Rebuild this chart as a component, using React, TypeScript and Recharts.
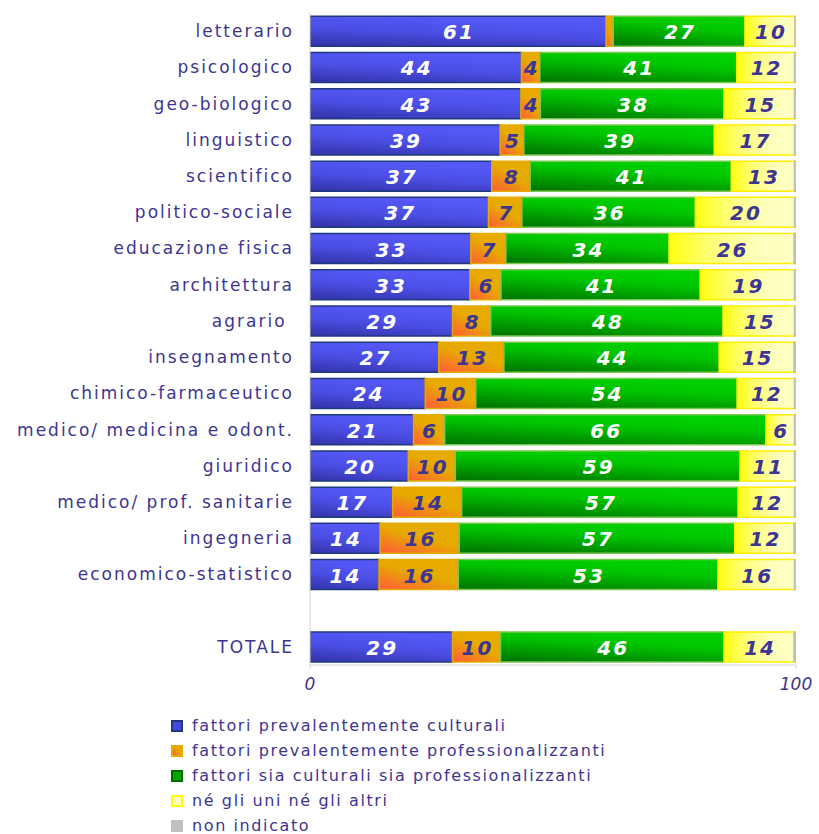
import React from "react";
import { BarChart, Bar, XAxis, YAxis, LabelList } from "recharts";

const categories = [
  "letterario",
  "psicologico",
  "geo-biologico",
  "linguistico",
  "scientifico",
  "politico-sociale",
  "educazione fisica",
  "architettura",
  "agrario\u00A0",
  "insegnamento",
  "chimico-farmaceutico",
  "medico/ medicina e odont.",
  "giuridico",
  "medico/ prof. sanitarie",
  "ingegneria",
  "economico-statistico",
  " ",
  "TOTALE",
];

// percentages (empty row = spacer before TOTALE)
const culturali = [60.9, 43.5, 43.4, 39.1, 37.4, 36.7, 33.1, 32.9, 29.3, 26.5, 23.7, 21.3, 20.2, 17.0, 14.4, 14.2, null, 29.3];
const professionalizzanti = [1.5, 3.8, 4.0, 4.9, 7.9, 6.9, 7.2, 6.4, 7.9, 13.4, 10.4, 6.4, 9.7, 14.2, 16.3, 16.3, null, 9.9];
const entrambi = [27.1, 40.5, 37.8, 39.2, 41.4, 35.7, 33.6, 41.0, 47.8, 44.3, 53.8, 66.1, 58.6, 56.9, 56.7, 53.4, null, 46.0];
const nessuno = [10.3, 11.9, 14.5, 16.5, 13.0, 20.4, 25.7, 19.4, 14.7, 15.4, 11.8, 5.9, 11.2, 11.6, 12.2, 15.8, null, 14.4];
const nonIndicato = [0.2, 0.3, 0.3, 0.3, 0.3, 0.3, 0.4, 0.3, 0.3, 0.4, 0.3, 0.3, 0.3, 0.3, 0.4, 0.3, null, 0.4];

const xTicks = [0, 100];

const TEXT = "#3d3592";
const FONT = "'DejaVu Sans', Verdana, sans-serif";

const series = [
  { key: "culturali", name: "fattori prevalentemente culturali", fill: "url(#gBlue)", stroke: "#1f3a7c", label: "#ffffff", swatch: "#4848e0", swatchBorder: "#1f3a7c" },
  { key: "professionalizzanti", name: "fattori prevalentemente professionalizzanti", fill: "url(#gOrange)", stroke: "#e6aa00", label: TEXT, swatch: "linear-gradient(45deg, #ff5a3a, #e6aa00 60%)", swatchBorder: "#e6aa00" },
  { key: "entrambi", name: "fattori sia culturali sia professionalizzanti", fill: "url(#gGreen)", stroke: "#7ac850", label: "#ffffff", swatch: "#00a800", swatchBorder: "#006a00" },
  { key: "nessuno", name: "né gli uni né gli altri", fill: "url(#gYellow)", stroke: "#ffee00", label: TEXT, swatch: "#ffffc0", swatchBorder: "#ffff00" },
  { key: "nonIndicato", name: "non indicato", fill: "#c0c0c0", stroke: "#c0c0c0", label: null, swatch: "#c0c0c0", swatchBorder: "#c0c0c0" },
];

const data = categories.map((name, i) => ({
  name,
  culturali: culturali[i],
  professionalizzanti: professionalizzanti[i],
  entrambi: entrambi[i],
  nessuno: nessuno[i],
  nonIndicato: nonIndicato[i],
}));

const CategoryTick = (props: any) => {
  const { x, y, payload } = props;
  return (
    <text x={x} y={y + 6} textAnchor="end" fill={TEXT} fontSize={17} fontFamily={FONT} letterSpacing={2}>
      {payload.value}
    </text>
  );
};

const ValueTick = (props: any) => {
  const { x, y, payload } = props;
  return (
    <text x={x} y={y + 21} textAnchor="middle" fill={TEXT} fontSize={17} fontFamily={FONT} fontStyle="italic">
      {payload.value}
    </text>
  );
};

const makeLabel = (color: string) => (props: any) => {
  const { x, y, width, height, value } = props;
  if (value == null || value < 3) return null;
  return (
    <text
      x={x + width / 2 + 1}
      y={y + height / 2 + 8}
      textAnchor="middle"
      fill={color}
      fontSize={20}
      fontWeight="bold"
      fontStyle="italic"
      fontFamily={FONT}
      letterSpacing={2}
    >
      {Math.round(value)}
    </text>
  );
};

export default function App() {
  return (
    <div style={{ position: "absolute", left: 0, top: 0, width: 819, height: 834, background: "#fff" }}>
      <BarChart
        width={819}
        height={834}
        data={data}
        layout="vertical"
        margin={{ top: 13, right: 23, bottom: 139, left: 0 }}
        barCategoryGap="9%"
      >
        <defs>
          <linearGradient id="gBlue" x1="0" y1="1" x2="0.35" y2="0">
            <stop offset="0" stopColor="#3232a6" />
            <stop offset="0.55" stopColor="#4b4ee4" />
            <stop offset="1" stopColor="#5558f6" />
          </linearGradient>
          <linearGradient id="gOrange" x1="0" y1="1" x2="0.7" y2="0">
            <stop offset="0" stopColor="#ff5a3a" />
            <stop offset="0.6" stopColor="#e6aa00" />
            <stop offset="1" stopColor="#e6aa00" />
          </linearGradient>
          <linearGradient id="gGreen" x1="0" y1="1" x2="0.45" y2="0">
            <stop offset="0" stopColor="#007000" />
            <stop offset="0.7" stopColor="#00c400" />
            <stop offset="1" stopColor="#00d000" />
          </linearGradient>
          <linearGradient id="gYellow" x1="0" y1="0" x2="1" y2="0">
            <stop offset="0" stopColor="#ffff10" />
            <stop offset="0.3" stopColor="#ffff70" />
            <stop offset="0.7" stopColor="#ffffbc" />
            <stop offset="1" stopColor="#ffffc4" />
          </linearGradient>
        </defs>
        <XAxis
          type="number"
          domain={[0, 100]}
          ticks={xTicks}
          allowDataOverflow
          height={30}
          stroke="#d4d4d4"
          tickSize={4}
          tickMargin={0}
          tick={<ValueTick />}
        />
        <YAxis
          type="category"
          dataKey="name"
          width={310}
          stroke="#d4d4d4"
          tickLine={false}
          tickSize={0}
          tickMargin={16}
          interval={0}
          tick={<CategoryTick />}
        />
        {series.map((s) => (
          <Bar
            key={s.key}
            dataKey={s.key}
            name={s.name}
            stackId="a"
            fill={s.fill}
            stroke={s.stroke}
            strokeWidth={1.5}
            isAnimationActive={false}
          >
            {s.label && <LabelList dataKey={s.key} content={makeLabel(s.label)} />}
          </Bar>
        ))}
      </BarChart>
      <div style={{ position: "absolute", left: 171, top: 713, fontFamily: FONT, fontSize: 16, color: TEXT, letterSpacing: 1.6 }}>
        {series.map((s) => (
          <div key={s.key} style={{ height: 25, lineHeight: "20px", display: "flex", alignItems: "center", whiteSpace: "nowrap" }}>
            <span
              style={{
                display: "inline-block",
                width: 8,
                height: 8,
                background: s.swatch,
                border: `2px solid ${s.swatchBorder}`,
                marginRight: 9,
              }}
            />
            {s.name}
          </div>
        ))}
      </div>
    </div>
  );
}
